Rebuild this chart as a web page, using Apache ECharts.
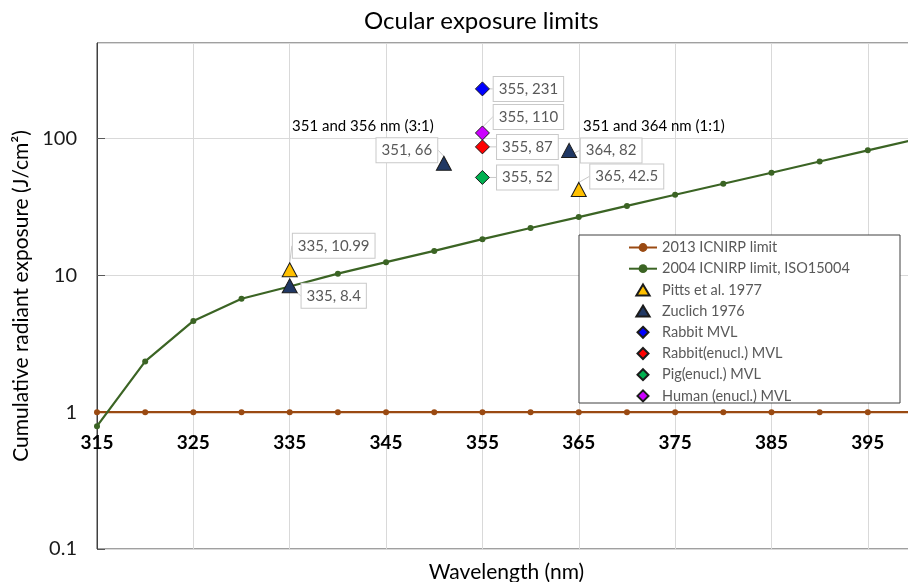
<!DOCTYPE html>
<html>
<head>
<meta charset="utf-8">
<title>Ocular exposure limits</title>
<script src="https://cdn.jsdelivr.net/npm/echarts@6/dist/echarts.min.js"></script>
<style>
  html, body { margin: 0; padding: 0; background: #fff; }
  #chart { width: 908px; height: 582px; }
</style>
</head>
<body>
<div id="chart"></div>
<script>
// Wavelengths (nm) for the two limit curves
const limitWavelengths = [315, 320, 325, 330, 335, 340, 345, 350, 355, 360, 365, 370, 375, 380, 385, 390, 395, 400];
// 2013 ICNIRP limit (J/cm²)
const icnirp2013 = [1, 1, 1, 1, 1, 1, 1, 1, 1, 1, 1, 1, 1, 1, 1, 1, 1, 1];
// 2004 ICNIRP limit, ISO15004 (J/cm²)
const icnirp2004 = [0.79, 2.35, 4.65, 6.75, 8.3, 10.3, 12.5, 15.1, 18.4, 22.2, 26.7, 32.2, 38.9, 46.8, 56.3, 68, 82.1, 99];

// Measured damage thresholds: [wavelength nm, radiant exposure J/cm²]
const pitts1977 = [[335, 10.99], [365, 42.5]];
const zuclich1976 = [[335, 8.4], [351, 66], [364, 82]];
const rabbitMVL = [[355, 231]];
const rabbitEnuclMVL = [[355, 87]];
const pigEnuclMVL = [[355, 52]];
const humanEnuclMVL = [[355, 110]];

const seriesNames = [
  '2013 ICNIRP limit',
  '2004 ICNIRP limit, ISO15004',
  'Pitts et al. 1977',
  'Zuclich 1976',
  'Rabbit MVL',
  'Rabbit(enucl.) MVL',
  'Pig(enucl.) MVL',
  'Human (enucl.) MVL'
];

const yTicks = [0.1, 1, 10, 100];
const xTickStart = 315;

const FONT = 'Lato, "Noto Sans", sans-serif';

// Legend icon shapes (kept at their own aspect ratio inside the legend slot)
const TRIANGLE_ICON = 'path://M6,0 L12,10 L0,10 Z';
const DIAMOND_ICON = 'path://M5,0 L10,5 L5,10 L0,5 Z';

// Callout offsets (px) for each point's value box, relative to the marker
const calloutShift = {
  'Pitts et al. 1977': [[44, -24], [48, -13]],
  'Zuclich 1976': [[44, 10], [-37, -13], [42, 0]],
  'Rabbit MVL': [[46, 0]],
  'Rabbit(enucl.) MVL': [[45, 0]],
  'Pig(enucl.) MVL': [[45, 0]],
  'Human (enucl.) MVL': [[46, -16]]
};

const chart = echarts.init(document.getElementById('chart'), null, { renderer: 'canvas' });

function lineSeries(name, values, color) {
  return {
    name: name,
    type: 'line',
    data: limitWavelengths.map((w, i) => [w, values[i]]),
    symbol: 'circle',
    symbolSize: 6,
    showSymbol: true,
    lineStyle: { color: color, width: 2.2 },
    itemStyle: { color: color },
    z: 3
  };
}

function pointSeries(name, points, symbol, size, color) {
  return {
    name: name,
    type: 'scatter',
    data: points,
    symbol: symbol,
    symbolSize: size,
    itemStyle: { color: color, borderColor: '#1b1b1b', borderWidth: 1, opacity: 1 },
    label: {
      show: true,
      position: 'inside',
      formatter: p => p.value[0] + ', ' + p.value[1],
      fontFamily: FONT,
      fontSize: 15,
      color: '#595959',
      backgroundColor: '#fff',
      borderColor: '#c9c9c9',
      borderWidth: 1,
      padding: [5, 5, 4, 5]
    },
    labelLine: { show: true, lineStyle: { color: '#c9c9c9', width: 1 } },
    labelLayout: p => {
      const s = calloutShift[name][p.dataIndex];
      return { dx: s[0], dy: s[1] };
    },
    z: 5
  };
}

const legendIcons = [null, null, TRIANGLE_ICON, TRIANGLE_ICON, DIAMOND_ICON, DIAMOND_ICON, DIAMOND_ICON, DIAMOND_ICON];

const option = {
  animation: false,
  backgroundColor: '#fff',
  textStyle: { fontFamily: FONT },
  title: {
    text: 'Ocular exposure limits',
    left: 359,
    top: 4,
    textStyle: { fontFamily: FONT, fontSize: 24, fontWeight: 'normal', color: '#000' }
  },
  grid: {
    left: 97, top: 43, width: 819, height: 506,
    containLabel: false,
    outerBoundsMode: 'none',
    show: true, borderColor: '#404040', borderWidth: 1, backgroundColor: 'transparent'
  },
  legend: {
    orient: 'vertical',
    left: 628,
    top: 240,
    padding: 0,
    itemWidth: 28,
    itemHeight: 11,
    itemGap: 6.2,
    symbolKeepAspect: true,
    data: seriesNames.map((n, i) => (legendIcons[i] ? { name: n, icon: legendIcons[i] } : { name: n })),
    textStyle: { fontFamily: FONT, fontSize: 14.5, color: '#595959' },
    z: 10
  },
  xAxis: {
    type: 'value',
    min: 315,
    max: 400,
    interval: 10,
    offset: -137,
    name: 'Wavelength (nm)',
    nameLocation: 'middle',
    nameGap: 150,
    nameTextStyle: { fontFamily: FONT, fontSize: 21, color: '#000' },
    axisLine: { show: false },
    axisTick: { show: false },
    axisLabel: {
      fontFamily: FONT, fontSize: 19, fontWeight: 'bold', color: '#000', margin: 21,
      showMaxLabel: false,
      formatter: v => ((v - xTickStart) % 10 === 0 ? String(v) : '')
    },
    splitLine: { show: true, lineStyle: { color: '#d9d9d9', width: 1 } }
  },
  yAxis: {
    type: 'log',
    logBase: 10,
    min: 0.1,
    max: 500,
    name: 'Cumulative radiant exposure (J/cm²)',
    nameLocation: 'middle',
    nameGap: 63,
    nameTextStyle: { fontFamily: FONT, fontSize: 21, color: '#000' },
    axisLine: { show: true, lineStyle: { color: '#404040', width: 1 } },
    axisTick: { show: true, inside: true, length: 8, lineStyle: { color: '#595959', width: 1 } },
    axisLabel: {
      fontFamily: FONT, fontSize: 20, color: '#1a1a1a', margin: 20,
      showMaxLabel: false,
      formatter: v => {
        const t = yTicks.find(k => Math.abs(k - v) / k < 1e-6);
        return t === undefined ? '' : String(t);
      }
    },
    splitLine: { show: true, lineStyle: { color: '#d9d9d9', width: 1 } }
  },
  graphic: [
    {
      type: 'rect',
      shape: { x: 579, y: 235, width: 321, height: 168 },
      style: { fill: '#fff', stroke: '#404040', lineWidth: 1 },
      z: 4
    },
    {
      type: 'text',
      left: 292, top: 119,
      style: { text: '351 and 356 nm (3:1)', font: '15px ' + FONT, fill: '#000' },
      z: 6
    },
    {
      type: 'text',
      left: 583, top: 119,
      style: { text: '351 and 364 nm (1:1)', font: '15px ' + FONT, fill: '#000' },
      z: 6
    }
  ],
  series: [
    lineSeries(seriesNames[0], icnirp2013, '#9a4a12'),
    lineSeries(seriesNames[1], icnirp2004, '#3b6424'),
    pointSeries(seriesNames[2], pitts1977, 'triangle', [15, 14], '#ffc000'),
    pointSeries(seriesNames[3], zuclich1976, 'triangle', [15, 14], '#203864'),
    pointSeries(seriesNames[4], rabbitMVL, 'diamond', [14, 14], '#0000ff'),
    pointSeries(seriesNames[5], rabbitEnuclMVL, 'diamond', [14, 14], '#ff0000'),
    pointSeries(seriesNames[6], pigEnuclMVL, 'diamond', [14, 14], '#00b050'),
    pointSeries(seriesNames[7], humanEnuclMVL, 'diamond', [14, 14], '#cc00ff')
  ]
};

chart.setOption(option);
</script>
</body>
</html>
